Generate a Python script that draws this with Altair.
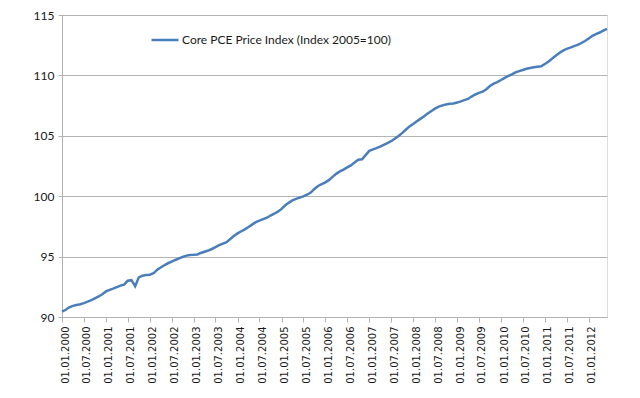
import altair as alt
import pandas as pd

# Core PCE Price Index, monthly, Jan 2000 - Jun 2012
values = [
    90.45, 90.60, 90.80, 90.92, 91.00, 91.06, 91.15, 91.27, 91.40, 91.55,
    91.70, 91.88, 92.12, 92.25, 92.35, 92.48, 92.60, 92.68, 93.00, 93.05,
    92.55, 93.28, 93.42, 93.47, 93.50, 93.62, 93.90, 94.10, 94.28, 94.45,
    94.58, 94.72, 94.85, 94.97, 95.08, 95.13, 95.15, 95.18, 95.30, 95.40,
    95.50, 95.63, 95.78, 95.95, 96.08, 96.20, 96.45, 96.70, 96.92, 97.10,
    97.26, 97.45, 97.65, 97.85, 97.98, 98.10, 98.22, 98.40, 98.55, 98.72,
    98.95, 99.25, 99.45, 99.65, 99.78, 99.88, 99.98, 100.12, 100.30, 100.60,
    100.85, 101.00, 101.15, 101.35, 101.60, 101.85, 102.05, 102.20, 102.38, 102.55,
    102.80, 103.02, 103.05, 103.40, 103.75, 103.88, 103.98, 104.10, 104.25, 104.40,
    104.55, 104.75, 104.98, 105.22, 105.50, 105.78, 105.98, 106.20, 106.40, 106.62,
    106.85, 107.05, 107.25, 107.42, 107.52, 107.60, 107.65, 107.68, 107.75, 107.85,
    107.95, 108.05, 108.25, 108.42, 108.55, 108.65, 108.85, 109.12, 109.32, 109.45,
    109.62, 109.80, 109.95, 110.08, 110.25, 110.35, 110.45, 110.55, 110.62, 110.68,
    110.72, 110.75, 110.95, 111.15, 111.38, 111.62, 111.85, 112.05, 112.20, 112.30,
    112.42, 112.52, 112.68, 112.85, 113.05, 113.28, 113.42, 113.55, 113.70, 113.85,
]
series_name = "Core PCE Price Index (Index 2005=100)"
y_ticks = [90, 95, 100, 105, 110, 115]
x_tick_years = [y for y in range(2000, 2013) for _ in (0, 1)][:-1]
x_tick_months = [1, 7] * 12 + [1]

dates = pd.date_range("2000-01-01", periods=len(values), freq="MS")
df = pd.DataFrame({
    "date": dates.strftime("%Y-%m-%dT00:00:00Z"),
    "value": values,
    "series": series_name,
})

tick_values = [alt.DateTime(year=y, month=m, date=1, utc=True)
               for y, m in zip(x_tick_years, x_tick_months)]

grey = "#b3b3b3"

chart = alt.Chart(df).mark_line(strokeWidth=2.5, interpolate="linear").encode(
    x=alt.X(
        "date:T",
        scale=alt.Scale(type="utc",
                        domain=[alt.DateTime(year=2000, month=1, date=1, utc=True),
                                alt.DateTime(year=2012, month=6, date=1, utc=True)]),
        axis=alt.Axis(
            values=tick_values, format="%d.%m.%Y", labelAngle=-90, title=None,
            labelFont="DejaVu Sans", labelFontSize=10, labelColor="#1a1a1a",
            grid=False, domainColor=grey, tickColor=grey, tickSize=5,
            labelPadding=4, labelOffset=3,
        ),
    ),
    y=alt.Y(
        "value:Q",
        scale=alt.Scale(domain=[90, 115], nice=False, zero=False),
        axis=alt.Axis(
            values=y_ticks, title=None, grid=True, gridColor=grey,
            domainColor=grey, tickColor=grey, tickSize=4,
            labelFont="Lato", labelFontSize=12, labelColor="#1a1a1a",
            labelPadding=4,
        ),
    ),
    color=alt.Color(
        "series:N",
        scale=alt.Scale(range=["#4a7ebb"]),
        legend=alt.Legend(
            orient="none", legendX=88, legendY=10, title=None,
            symbolType="stroke", symbolSize=729, symbolStrokeWidth=2.5,
            labelFont="Lato", labelFontSize=12, labelColor="#1a1a1a",
            labelOffset=2, padding=0, labelLimit=0,
        ),
    ),
).properties(
    width=545,
    height=302,
    autosize=alt.AutoSizeParams(type="none"),
    padding={"left": 54, "top": 7, "right": 25, "bottom": 75},
).configure_view(stroke=None).configure(background="white")

chart.save("out.html", embed_options={"renderer": "svg", "actions": False})
